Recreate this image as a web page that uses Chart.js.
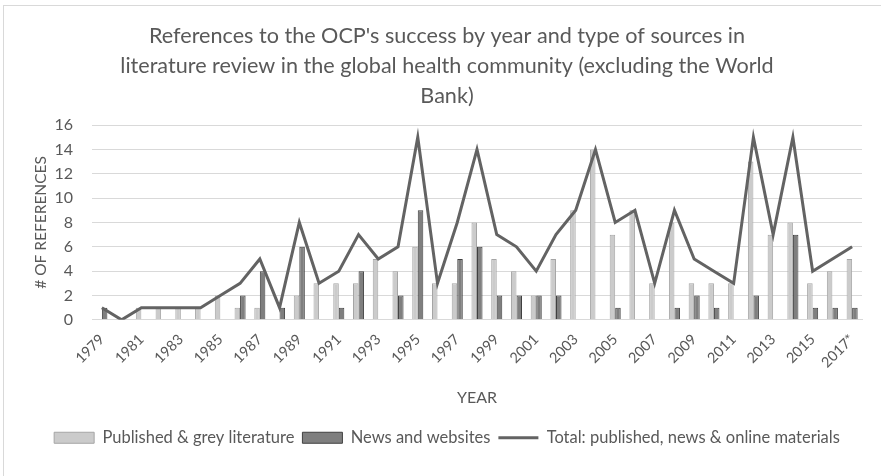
<!DOCTYPE html>
<html>
<head>
<meta charset="utf-8">
<script src="https://cdn.jsdelivr.net/npm/chart.js@4.4.1/dist/chart.umd.min.js"></script>
<style>
  html, body { margin: 0; padding: 0; background: #fff; overflow: hidden; }
  #frame {
    position: absolute; left: 3px; top: 5px; width: 900px; height: 500px;
    border: 1px solid #d9d9d9; box-sizing: border-box;
  }
  #chart { position: absolute; left: 0; top: 0; }
</style>
</head>
<body>
<div id="frame"></div>
<canvas id="chart" width="881" height="476"></canvas>
<script>
// years, last one is partial
const years = ["1979","1980","1981","1982","1983","1984","1985","1986","1987","1988",
  "1989","1990","1991","1992","1993","1994","1995","1996","1997","1998",
  "1999","2000","2001","2002","2003","2004","2005","2006","2007","2008",
  "2009","2010","2011","2012","2013","2014","2015","2016","2017*"];

const published = [0,0,1,1,1,1,2,1,1,0, 2,3,3,3,5,4,6,3,3,8, 5,4,2,5,9,14,7,9,3,8, 3,3,3,13,7,8,3,4,5];
const news      = [1,0,0,0,0,0,0,2,4,1, 6,0,1,4,0,2,9,0,5,6, 2,2,2,2,0,0,1,0,0,1, 2,1,0,2,0,7,1,1,1];
const total     = [1,0,1,1,1,1,2,3,5,1, 8,3,4,7,5,6,15,3,8,14, 7,6,4,7,9,14,8,9,3,9, 5,4,3,15,7,15,4,5,6];

const yTicks = [0, 2, 4, 6, 8, 10, 12, 14, 16];

const textColor = "#595959";
const fontFamily = "Lato, 'Open Sans', sans-serif";

new Chart(document.getElementById("chart"), {
  type: "bar",
  data: {
    labels: years,
    datasets: [
      {
        label: "Published & grey literature",
        data: published,
        backgroundColor: "#cbcbcb",
        borderColor: "#a5a5a5",
        borderWidth: 1,
        pointStyle: "rect",
        order: 1
      },
      {
        label: "News and websites",
        data: news,
        backgroundColor: "#7f7f7f",
        borderColor: "#404040",
        borderWidth: 1,
        pointStyle: "rect",
        order: 1
      },
      {
        type: "line",
        label: "Total: published, news & online materials",
        data: total,
        borderColor: "#636363",
        backgroundColor: "#636363",
        borderWidth: 3,
        pointRadius: 0,
        pointStyle: "line",
        tension: 0,
        order: 0
      }
    ]
  },
  options: {
    responsive: false,
    animation: false,
    devicePixelRatio: 1,
    datasets: {
      bar: { categoryPercentage: 0.56, barPercentage: 1 }
    },
    layout: { padding: { top: 21, left: 32, right: 19, bottom: 20 } },
    plugins: {
      title: {
        display: true,
        text: [
          "References to the OCP's success by year and type of sources in",
          "literature review in the global health community (excluding the World",
          "Bank)"
        ],
        color: textColor,
        font: { family: fontFamily, size: 21.6, weight: "normal", lineHeight: 1.39 },
        padding: { top: 0, bottom: 14 }
      },
      legend: {
        position: "bottom",
        labels: {
          color: textColor,
          font: { family: fontFamily, size: 16.5 },
          usePointStyle: true,
          pointStyleWidth: 40,
          boxHeight: 11,
          padding: 8,
          sort: (a, b) => a.datasetIndex - b.datasetIndex
        }
      },
      tooltip: { enabled: false }
    },
    scales: {
      x: {
        grid: { display: false },
        border: { color: "#d9d9d9" },
        ticks: {
          color: textColor,
          font: { family: fontFamily, size: 14.5 },
          autoSkip: false,
          maxRotation: 45,
          minRotation: 45,
          callback: function (value, index) {
            return index % 2 === 0 ? this.getLabelForValue(value) : "";
          }
        },
        title: {
          display: true,
          text: "YEAR",
          color: textColor,
          font: { family: fontFamily, size: 16 },
          padding: { top: 14, bottom: 14 }
        }
      },
      y: {
        min: 0,
        max: 16,
        afterBuildTicks: (axis) => { axis.ticks = yTicks.map(v => ({ value: v })); },
        // fixed axis width keeps the plot's left edge in place
        afterFit: (axis) => { axis.width = 60; },
        grid: { color: "#d9d9d9", lineWidth: 1, drawTicks: false },
        border: { display: false },
        ticks: {
          color: textColor,
          font: { family: fontFamily, size: 16 },
          padding: 19
        },
        title: {
          display: true,
          text: "# OF REFERENCES",
          color: textColor,
          font: { family: fontFamily, size: 15.5 },
          padding: { top: 0, bottom: 2 }
        }
      }
    }
  }
});
</script>
</body>
</html>
